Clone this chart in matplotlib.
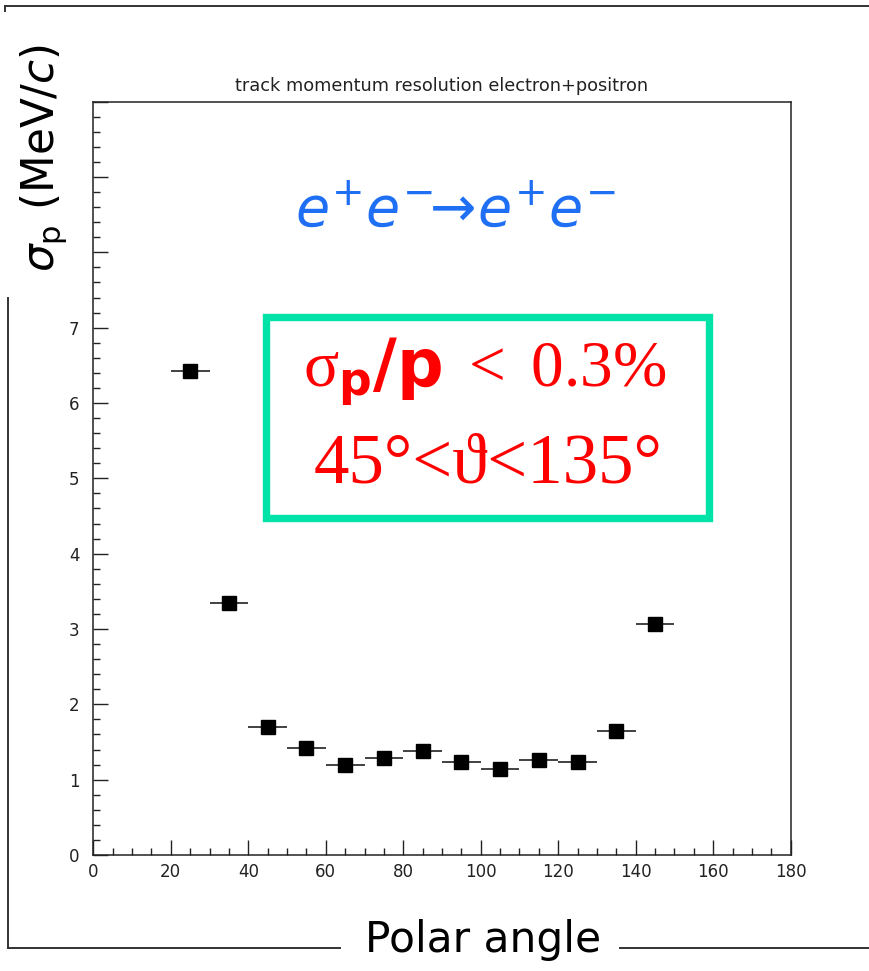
import numpy as np
import matplotlib
matplotlib.use("Agg")
import matplotlib.pyplot as plt
from matplotlib.patches import Rectangle
from matplotlib.lines import Line2D

# polar-angle bins (deg), bin half width, resolution sigma_p (MeV/c)
angle = [25, 35, 45, 55, 65, 75, 85, 95, 105, 115, 125, 135, 145, 155]
half_width = [5] * 14
sigma_p = [6.43, 3.34, 1.70, 1.42, 1.20, 1.29, 1.38, 1.23, 1.14, 1.26, 1.24, 1.64, 3.07, 6.09]
sigma_err = [0.03, 0.03, 0.03, 0.03, 0.03, 0.03, 0.07, 0.03, 0.03, 0.03, 0.03, 0.03, 0.03, 0.03]

xticks = [0, 20, 40, 60, 80, 100, 120, 140, 160, 180]
yticks = [0, 1, 2, 3, 4, 5, 6, 7, 8, 9, 10]
ytick_labels = ["0", "1", "2", "3", "4", "5", "6", "7", "", "", ""]

W, H = 869, 971
fig = plt.figure(figsize=(W / 100, H / 100), dpi=100)
fig.patch.set_facecolor("white")


def fx(px):
    return px / W


def fy(py):
    return 1 - py / H


ax = fig.add_axes([fx(93.3), fy(855), fx(790.7) - fx(93.3), fy(101.7) - fy(855)])

ax.errorbar(angle, sigma_p, xerr=half_width, yerr=sigma_err, fmt="s", color="black",
            ecolor="#333333", elinewidth=1.3, capsize=0, markersize=9.5, zorder=3)

ax.set_xlim(0, 180)
ax.set_ylim(0, 10)
ax.set_xticks(xticks)
ax.set_xticks(np.arange(0, 181, 5), minor=True)
ax.set_yticks(yticks)
ax.set_yticklabels(ytick_labels)
ax.set_yticks(np.arange(0, 10.01, 0.2), minor=True)
ax.tick_params(which="both", direction="in", top=False, right=False,
               labelsize=12, colors="#222222", width=1.0)
ax.tick_params(which="major", length=10.5)
ax.tick_params(which="minor", length=5)
ax.tick_params(axis="x", pad=6)
ax.tick_params(axis="y", pad=10)
for sp in ax.spines.values():
    sp.set_linewidth(1.1)
    sp.set_color("#222222")

fig.text(fx(442), fy(86), "track momentum resolution electron+positron",
         ha="center", va="center", fontsize=12.8, color="#222222")

# axis titles
fig.text(fx(44), fy(158), r"$\sigma_\mathrm{p}$ (MeV/$c$)", rotation=90,
         ha="center", va="center", fontsize=31.5, color="black")
fig.text(fx(483), fy(940), "Polar angle", ha="center", va="center",
         fontsize=30.5, color="black")

# process label
fig.text(fx(455), fy(210), r"$e^{+}e^{-}\!\!\rightarrow\! e^{+}e^{-}$",
         ha="center", va="center", fontsize=40, color="#1f6ff5",
         math_fontfamily="dejavusans")

# boxed summary
box = Rectangle((fx(265.5), fy(518)), fx(709) - fx(265.5), fy(317.5) - fy(518),
                transform=fig.transFigure, facecolor="white", edgecolor="#00e3a8",
                linewidth=5.3, zorder=5)
fig.patches.append(box)

plt.rcParams["mathtext.fontset"] = "custom"
plt.rcParams["mathtext.rm"] = "Liberation Serif"
plt.rcParams["mathtext.it"] = "Liberation Serif:italic"
plt.rcParams["mathtext.bf"] = "DejaVu Sans:bold"
fig.text(fx(485), fy(372), r"$\mathrm{\sigma}_{\mathbf{p}}\mathbf{/p}\ <\ 0.3\%$",
         ha="center", va="center", fontsize=47, color="#ff0000",
         math_fontfamily="custom", zorder=6)
fig.text(fx(488), fy(465), "45°<ϑ<135°", ha="center", va="center",
         fontsize=51, color="#ff0000", family=["Liberation Serif", "DejaVu Serif"],
         zorder=6)

# outer frame
frame_kw = dict(transform=fig.transFigure, color="#333333", linewidth=1.4)
fig.lines.append(Line2D([fx(5), fx(869)], [fy(6), fy(6)], **frame_kw))
fig.lines.append(Line2D([fx(5), fx(5)], [fy(6), fy(11)], **frame_kw))
fig.lines.append(Line2D([fx(8), fx(8)], [fy(298), fy(948)], **frame_kw))
fig.lines.append(Line2D([fx(8), fx(340)], [fy(948), fy(948)], **frame_kw))
fig.lines.append(Line2D([fx(620), fx(869)], [fy(948), fy(948)], **frame_kw))

fig.savefig("out.png", dpi=100)
